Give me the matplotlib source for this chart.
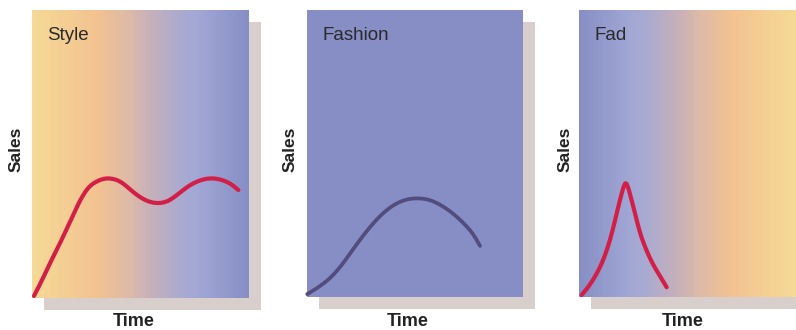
import numpy as np
import matplotlib
matplotlib.use("Agg")
import matplotlib.pyplot as plt
from matplotlib.colors import LinearSegmentedColormap
from matplotlib.patches import Rectangle, PathPatch
from matplotlib.path import Path

plt.rcParams['font.family'] = ['Liberation Sans', 'DejaVu Sans']

# Product life-cycle curves (time and sales as fractions of the panel)
panel_titles = ["Style", "Fashion", "Fad"]

style_time = [0.009, 0.040, 0.068, 0.098, 0.129, 0.160, 0.190, 0.213, 0.236, 0.259,
              0.282, 0.315, 0.344, 0.372, 0.398, 0.425, 0.452, 0.483, 0.513, 0.548,
              0.582, 0.610, 0.636, 0.667, 0.697, 0.728, 0.759, 0.793, 0.828, 0.862,
              0.897, 0.925, 0.951]
style_sales = [0.007, 0.052, 0.097, 0.144, 0.190, 0.240, 0.288, 0.326, 0.358, 0.383,
               0.398, 0.411, 0.416, 0.414, 0.408, 0.395, 0.377, 0.358, 0.343, 0.332,
               0.329, 0.332, 0.340, 0.357, 0.375, 0.392, 0.404, 0.413, 0.416, 0.413,
               0.404, 0.392, 0.375]

fashion_time = [0.001, 0.030, 0.060, 0.092, 0.122, 0.153, 0.184, 0.215, 0.245, 0.276,
                0.307, 0.338, 0.369, 0.400, 0.431, 0.466, 0.500, 0.535, 0.569, 0.600,
                0.631, 0.662, 0.693, 0.724, 0.755, 0.780, 0.801]
fashion_sales = [0.010, 0.023, 0.038, 0.056, 0.077, 0.104, 0.135, 0.168, 0.199, 0.229,
                 0.257, 0.282, 0.303, 0.320, 0.332, 0.341, 0.344, 0.343, 0.338, 0.328,
                 0.315, 0.299, 0.280, 0.258, 0.233, 0.207, 0.178]

fad_time = [0.012, 0.036, 0.059, 0.083, 0.105, 0.125, 0.143, 0.159, 0.174, 0.188,
            0.201, 0.209, 0.215, 0.222, 0.230, 0.244, 0.258, 0.273, 0.289, 0.308,
            0.327, 0.346, 0.365, 0.385, 0.404]
fad_sales = [0.007, 0.028, 0.053, 0.083, 0.117, 0.156, 0.199, 0.245, 0.292, 0.336,
             0.373, 0.391, 0.398, 0.391, 0.373, 0.333, 0.292, 0.246, 0.205, 0.168,
             0.135, 0.107, 0.083, 0.058, 0.034]

W, H = 796, 330
fig = plt.figure(figsize=(W / 100, H / 100), dpi=100)
fig.patch.set_facecolor("white")

warm_to_cool = [(0.00, "#f6da96"), (0.30, "#f3c291"), (0.45, "#ddbaa8"),
                (0.55, "#c6b0bb"), (0.70, "#a8aad2"), (0.78, "#a0a6d4"),
                (1.00, "#868ec5")]
cool_to_warm = [(1 - p, c) for p, c in reversed(warm_to_cool)]

panels = [
    # left, top, right, bottom (pixels), background, curve
    dict(box=(32, 10, 249, 298), bg=warm_to_cool, x=style_time, y=style_sales,
         color="#d21f47", lw=3.0, label_x=16, time_x=134),
    dict(box=(307, 10, 523, 297), bg="#878ec6", x=fashion_time, y=fashion_sales,
         color="#524d7d", lw=2.7, label_x=290, time_x=408),
    dict(box=(579, 10, 796, 297), bg=cool_to_warm, x=fad_time, y=fad_sales,
         color="#d21f47", lw=3.0, label_x=565, time_x=683),
]


def smooth_curve(x, y):
    """Quadratic Bezier path through the midpoints of successive points."""
    pts = np.column_stack([x, y])
    verts = [pts[0]]
    codes = [Path.MOVETO]
    for i in range(1, len(pts) - 1):
        end = pts[-1] if i == len(pts) - 2 else (pts[i] + pts[i + 1]) / 2
        verts += [pts[i], end]
        codes += [Path.CURVE3, Path.CURVE3]
    return Path(verts, codes)


shadow_offset = 12
for title, p in zip(panel_titles, panels):
    l, t, r, b = p["box"]
    # drop shadow behind each panel
    fig.add_artist(Rectangle(((l + shadow_offset) / W, 1 - (b + shadow_offset) / H),
                             (r - l) / W, (b - t) / H, transform=fig.transFigure,
                             facecolor="#d8cfcc", edgecolor="none", zorder=-5))
    ax = fig.add_axes([l / W, 1 - b / H, (r - l) / W, (b - t) / H])
    ax.set_xlim(0, 1)
    ax.set_ylim(0, 1)
    ax.set_axis_off()
    if isinstance(p["bg"], str):
        ax.add_patch(Rectangle((0, 0), 1, 1, facecolor=p["bg"], edgecolor="none",
                               zorder=0))
    else:
        cmap = LinearSegmentedColormap.from_list("bg", p["bg"])
        ax.imshow(np.linspace(0, 1, 512)[None, :], cmap=cmap, aspect="auto",
                  extent=[0, 1, 0, 1], zorder=0, interpolation="bilinear")
    ax.add_patch(PathPatch(smooth_curve(p["x"], p["y"]), facecolor="none",
                           edgecolor=p["color"], lw=p["lw"], capstyle="round",
                           joinstyle="round", zorder=2, clip_on=False))
    ax.text(0.07, 0.91, title, transform=ax.transAxes, fontsize=13.5,
            color="#2a2a2a", ha="left", va="center")
    fig.text(p["label_x"] / W, 1 - 149 / H, "Sales", rotation=90, fontsize=12.5,
             fontweight="bold", color="#222222", ha="center", va="center")
    fig.text(p["time_x"] / W, 1 - 322 / H, "Time", fontsize=13,
             fontweight="bold", color="#222222", ha="center", va="center")

fig.savefig("out.png", dpi=100)
